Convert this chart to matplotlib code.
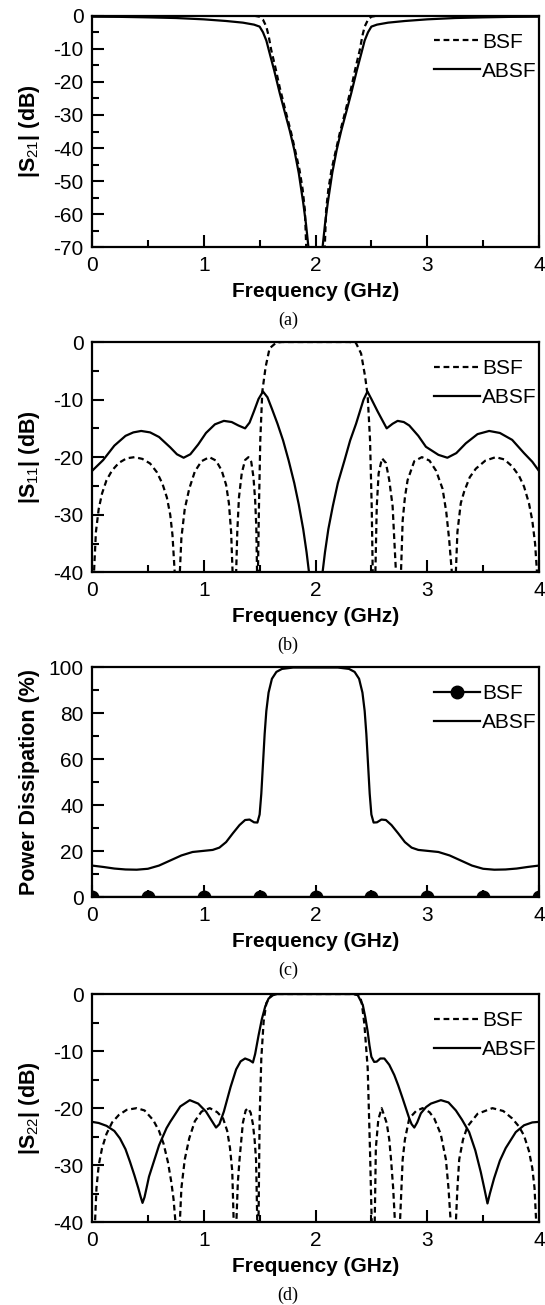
import matplotlib
matplotlib.use("Agg")
import matplotlib.pyplot as plt

plt.rcParams['font.family'] = ['Liberation Sans', 'DejaVu Sans']
plt.rcParams['mathtext.fontset'] = 'custom'
plt.rcParams['mathtext.rm'] = 'Liberation Sans'
plt.rcParams['mathtext.bf'] = 'Liberation Sans:bold'
plt.rcParams['axes.unicode_minus'] = False

# ---- (a) |S21| ----
fa_bsf = [0, 0.5, 1.0, 1.45, 1.5, 1.53, 1.56, 1.58, 1.604, 1.64, 1.68, 1.73, 1.783, 1.82, 1.857,
          1.885, 1.905, 1.917, 1.95, 2.05, 2.083, 2.095, 2.115, 2.143, 2.18, 2.217, 2.27, 2.32,
          2.36, 2.396, 2.42, 2.44, 2.47, 2.5, 2.55, 3.0, 3.5, 4.0]
sa_bsf = [0, 0, 0, 0, -0.3, -1.2, -3.3, -6.0, -10.4, -15.5, -21.7, -28.5, -35.5, -41.0, -46.6,
          -52.5, -58.7, -70, -90, -90, -70, -58.7, -52.5, -46.6, -41.0, -35.5, -28.5, -21.7,
          -15.5, -10.4, -6.0, -3.3, -1.2, -0.3, 0, 0, 0, 0]
fa_absf = [0, 0.25, 0.5, 0.75, 1.0, 1.2, 1.35, 1.45, 1.5, 1.53, 1.56, 1.59, 1.63, 1.68, 1.72,
           1.77, 1.81, 1.85, 1.89, 1.915, 1.94, 2.0, 2.06, 2.085, 2.11, 2.15, 2.19, 2.23, 2.28,
           2.32, 2.37, 2.41, 2.44, 2.47, 2.5, 2.55, 2.65, 2.8, 3.0, 3.25, 3.5, 3.75, 4.0]
sa_absf = [-0.3, -0.35, -0.5, -0.7, -1.1, -1.6, -2.1, -2.7, -3.3, -5.0, -7.5, -11.4, -16.5,
           -23.4, -28.5, -34.8, -40.5, -47.5, -56.5, -63, -71, -90, -71, -63, -56.5, -47.5,
           -40.5, -34.8, -28.5, -23.4, -16.5, -11.4, -7.5, -5.0, -3.3, -2.7, -2.1, -1.6, -1.1,
           -0.7, -0.5, -0.35, -0.3]

# ---- (b) |S11| ----
fb_bsf = [0.0, 0.018, 0.035, 0.06, 0.09, 0.13, 0.18, 0.24, 0.31, 0.38, 0.45, 0.52, 0.58, 0.63,
          0.67, 0.7, 0.72, 0.74, 0.765, 0.786, 0.8, 0.83, 0.87, 0.92, 0.98, 1.05, 1.11, 1.16,
          1.2, 1.225, 1.245, 1.258, 1.275, 1.29, 1.3, 1.315, 1.34, 1.37, 1.4, 1.425, 1.445,
          1.46, 1.47, 1.477, 1.481, 1.485, 1.494, 1.506, 1.524, 1.554, 1.589, 1.649, 1.7,
          2.3, 2.36, 2.408, 2.444, 2.467, 2.488, 2.503, 2.512, 2.524, 2.536, 2.548, 2.565,
          2.595, 2.63, 2.66, 2.69, 2.705, 2.72, 2.74, 2.765, 2.78, 2.8, 2.824, 2.884, 2.952,
          3.02, 3.08, 3.137, 3.17, 3.196, 3.22, 3.24, 3.256, 3.27, 3.3, 3.33, 3.38, 3.435,
          3.52, 3.613, 3.69, 3.76, 3.82, 3.866, 3.91, 3.94, 3.965, 3.982, 4.0]
sb_bsf = [-48, -40, -33, -29, -26.3, -24.0, -22.3, -21.0, -20.2, -20.0, -20.3, -21.1, -22.6,
          -24.6, -27.0, -30.0, -33.5, -40, -48, -40, -34, -29, -25.5, -22.5, -20.7, -20.0,
          -20.6, -22.3, -24.8, -28, -33, -40, -48, -40, -33, -27, -22.8, -20.5, -20.0, -20.8,
          -23.5, -27.5, -32, -40, -48, -40, -28.6, -17, -8.6, -4.3, -1.1, -0.1, 0,
          0, -0.1, -2.0, -6.0, -9.4, -17, -28.6, -40, -48, -40, -28.6, -22.8,
          -20.2, -21.0, -24.0, -28.5, -34.3, -40, -48, -40, -31, -27, -24, -20.7, -20.0,
          -20.6, -22.4, -25.5, -29.5, -34.3, -40, -48, -40, -33, -28, -26.0, -23.5, -22.0,
          -20.6, -20.0, -20.4, -21.6, -23.2, -25.1, -28.0, -31, -35, -40, -48]
fb_absf = [0, 0.1, 0.2, 0.3, 0.37, 0.44, 0.52, 0.6, 0.7, 0.76, 0.82, 0.88, 0.95, 1.02, 1.1,
           1.18, 1.25, 1.31, 1.37, 1.41, 1.45, 1.49, 1.53, 1.57, 1.61, 1.66, 1.71, 1.76, 1.81,
           1.85, 1.89, 1.92, 1.945, 2.0, 2.06, 2.085, 2.115, 2.155, 2.2, 2.259, 2.31, 2.363,
           2.43, 2.465, 2.5, 2.557, 2.637, 2.69, 2.735, 2.79, 2.839, 2.92, 2.988, 3.1, 3.18,
           3.26, 3.345, 3.45, 3.554, 3.65, 3.76, 3.866, 3.94, 4.0]
sb_absf = [-22.4, -20.5, -18.0, -16.3, -15.7, -15.45, -15.7, -16.5, -18.3, -19.5, -20.1, -19.5,
           -17.8, -15.8, -14.3, -13.7, -13.9, -14.5, -15.0, -14.0, -12.0, -9.9, -8.6, -9.6,
           -11.6, -14.2, -17.1, -20.6, -24.5, -28.2, -32.5, -36.5, -40.5, -55, -40.5, -36.5,
           -32.5, -28.5, -24.5, -20.6, -17.1, -14.2, -10.0, -8.6, -9.9, -12.1, -15.0, -14.2,
           -13.7, -13.9, -14.5, -16.3, -18.2, -19.6, -20.1, -19.3, -17.6, -16.0, -15.45,
           -15.8, -17.0, -19.3, -20.8, -22.4]

# ---- (c) power dissipation ----
fc_bsf = [0, 0.5, 1.0, 1.5, 2.0, 2.5, 3.0, 3.5, 4.0]
pc_bsf = [0, 0, 0, 0, 0, 0, 0, 0, 0]
fc_absf = [0, 0.1, 0.2, 0.3, 0.4, 0.5, 0.6, 0.7, 0.8, 0.9, 1.0, 1.08, 1.14, 1.2, 1.26, 1.32,
           1.37, 1.41, 1.45, 1.48, 1.5, 1.515, 1.53, 1.545, 1.56, 1.58, 1.61, 1.65, 1.7, 1.8,
           2.2, 2.3, 2.35, 2.39, 2.42, 2.44, 2.455, 2.47, 2.485, 2.5, 2.52, 2.55, 2.59, 2.63,
           2.68, 2.74, 2.8, 2.86, 2.92, 3.0, 3.1, 3.2, 3.3, 3.4, 3.5, 3.6, 3.7, 3.8, 3.9, 4.0]
pc_absf = [13.8, 13.2, 12.5, 12.1, 12.0, 12.4, 13.8, 16.0, 18.2, 19.7, 20.2, 20.6, 21.6, 24.0,
           27.8, 31.4, 33.6, 33.8, 32.6, 32.5, 36, 45, 58, 71, 81, 89, 95, 98, 99.3, 99.9,
           99.9, 99.3, 98, 95, 89, 81, 71, 58, 45, 36, 32.5, 32.6, 33.8, 33.6, 31.4, 27.8, 24.0,
           21.6, 20.6, 20.2, 19.7, 18.2, 16.0, 13.8, 12.4, 12.0, 12.1, 12.5, 13.2, 13.8]

# ---- (d) |S22| ----
fd_bsf = [0.0, 0.027, 0.04, 0.06, 0.09, 0.13, 0.18, 0.24, 0.31, 0.4, 0.47, 0.548, 0.6, 0.64,
          0.68, 0.71, 0.73, 0.747, 0.767, 0.786, 0.8, 0.83, 0.87, 0.92, 0.98, 1.054, 1.12,
          1.173, 1.21, 1.235, 1.255, 1.268, 1.28, 1.292, 1.305, 1.321, 1.35, 1.375, 1.396,
          1.42, 1.44, 1.455, 1.468, 1.479, 1.485, 1.49, 1.5, 1.515, 1.536, 1.56, 1.604, 1.66,
          2.34, 2.396, 2.414, 2.4375, 2.467, 2.488, 2.503, 2.516, 2.53, 2.54, 2.562, 2.592,
          2.637, 2.66, 2.676, 2.695, 2.711, 2.733, 2.756, 2.78, 2.8, 2.839, 2.9, 2.958, 3.02,
          3.0625, 3.12, 3.167, 3.19, 3.21, 3.233, 3.256, 3.27, 3.286, 3.32, 3.36, 3.45, 3.583,
          3.68, 3.76, 3.82, 3.866, 3.91, 3.94, 3.96, 3.975, 4.0]
sd_bsf = [-48, -40, -34, -30, -27, -24.5, -22.5, -21.2, -20.3, -20.0, -20.4, -22.1, -24.0,
          -26.2, -29.5, -33, -36, -40, -48, -40, -34, -29, -25.3, -22.3, -20.6, -20.0, -20.7,
          -21.8, -24.0, -27, -31, -40, -48, -40, -33, -28.8, -22.6, -20.4, -20.0, -20.8,
          -22.8, -25.5, -29, -40, -48, -40, -21.8, -11.3, -4.8, -1.6, -0.2, 0,
          0, -0.2, -1.6, -5.3, -13, -27.6, -40, -48, -40, -27, -22, -20,
          -22.6, -25.5, -29, -34, -40, -48, -40, -29, -25.5, -21.8, -20.5, -20, -20.7,
          -21.8, -24.5, -29, -34, -40, -48, -40, -34, -29, -25.5, -23.2, -21.0, -20,
          -20.5, -21.8, -23.2, -24.8, -27.5, -30.5, -34, -40, -48]
fd_absf = [0, 0.06, 0.13, 0.2, 0.25, 0.3, 0.34, 0.38, 0.414, 0.435, 0.452, 0.47, 0.488, 0.51,
           0.5625, 0.6, 0.667, 0.7, 0.79, 0.875, 0.95, 1.02, 1.068, 1.11, 1.14, 1.18, 1.24,
           1.29, 1.33, 1.37, 1.41, 1.44, 1.46, 1.49, 1.52, 1.55, 1.58, 1.62, 1.66,
           2.34, 2.378, 2.423, 2.445, 2.467, 2.483, 2.5, 2.525, 2.548, 2.58, 2.616, 2.66,
           2.705, 2.74, 2.78, 2.839, 2.86, 2.884, 2.91, 2.943, 2.99, 3.033, 3.122, 3.19,
           3.256, 3.31, 3.375, 3.43, 3.479, 3.51, 3.539, 3.56, 3.598, 3.65, 3.702, 3.792,
           3.866, 3.94, 4.0]
sd_absf = [-22.4, -22.6, -23.1, -24.0, -25.3, -27.2, -29.4, -31.8, -34.0, -35.5, -36.6, -35.6,
           -34.0, -32.0, -28.8, -26.5, -23.5, -22.4, -19.7, -18.6, -19.2, -20.6, -22.1, -23.4,
           -22.8, -20.6, -16.3, -13.2, -11.8, -11.3, -11.6, -12.0, -10.5, -7.3, -4.4, -2.2,
           -0.8, -0.2, 0,
           0, -0.2, -1.9, -4.0, -6.6, -9.0, -11.0, -11.9, -11.85, -11.3, -11.3, -12.4,
           -14.2, -16.0, -18.3, -21.8, -22.8, -23.4, -22.5, -20.9, -19.8, -19.2, -18.6, -19.0,
           -20.4, -22.0, -24.2, -27.4, -31.2, -34.0, -36.7, -35.0, -32.3, -29.2, -27.0, -24.2,
           -23.0, -22.5, -22.4]

W, H = 545, 1305
fig = plt.figure(figsize=(W / 100, H / 100), dpi=100)

L, R = 92, 539
# (top, bottom) in pixels for each panel
panels = [(15.7, 247.3), (342, 572.3), (667.3, 897.3), (994, 1222.3)]
axes = []
for top, bot in panels:
    ax = fig.add_axes([L / W, 1 - bot / H, (R - L) / W, (bot - top) / H])
    axes.append(ax)

dash = (0, (2.6, 1.7))
lw = 1.6
tick_fs = 15
leg_fs = 15


def style(ax, top, bot, ylim, ymaj, ymin, ylabel, cap):
    ax.set_xlim(0, 4)
    ax.set_ylim(*ylim)
    ax.set_xticks([0, 1, 2, 3, 4])
    ax.set_xticks([0.5, 1.5, 2.5, 3.5], minor=True)
    ax.set_yticks(ymaj)
    ax.set_yticks(ymin, minor=True)
    ax.tick_params(which='both', direction='in', width=1.5, labelsize=tick_fs, pad=6,
                   top=False, right=False)
    ax.tick_params(which='major', length=8.5)
    ax.tick_params(which='minor', length=5)
    for s in ax.spines.values():
        s.set_linewidth(1.6)
    h = bot - top
    ax.set_xlabel('Frequency (GHz)', fontsize=15, fontweight='bold')
    ax.xaxis.set_label_coords(0.5, -44 / h)
    ax.xaxis.label.set_va('center')
    ax.set_ylabel(ylabel, fontsize=15.5, fontweight='bold')
    ax.yaxis.set_label_coords((30 - L) / (R - L), 0.5)
    ax.yaxis.label.set_va('center')
    fig.text(288 / W, 1 - (bot + 73.4) / H, cap, family='Liberation Serif', fontsize=13,
             ha='center', va='center')
    ax.legend(loc='upper right', bbox_to_anchor=((537 - L) / (R - L), 1 - 17 / h),
              frameon=False, fontsize=leg_fs, handlelength=2.2, handletextpad=0.1,
              borderpad=0, borderaxespad=0, labelspacing=0.48)


ax = axes[0]
ax.plot(fa_bsf, sa_bsf, color='black', lw=lw, ls=dash, label='BSF')
ax.plot(fa_absf, sa_absf, color='black', lw=lw, label='ABSF')
style(ax, *panels[0], (-70, 0), range(-70, 1, 10), range(-65, 0, 10),
      r'|S$_{\mathrm{21}}$| (dB)', '(a)')

ax = axes[1]
ax.plot(fb_bsf, sb_bsf, color='black', lw=lw, ls=dash, label='BSF')
ax.plot(fb_absf, sb_absf, color='black', lw=lw, label='ABSF')
style(ax, *panels[1], (-40, 0), range(-40, 1, 10), range(-35, 0, 10),
      r'|S$_{\mathrm{11}}$| (dB)', '(b)')

ax = axes[2]
ax.plot(fc_bsf, pc_bsf, color='black', lw=lw, marker='o', ms=9, label='BSF')
ax.plot(fc_absf, pc_absf, color='black', lw=lw, label='ABSF')
style(ax, *panels[2], (0, 100), range(0, 101, 20), range(10, 100, 20),
      'Power Dissipation (%)', '(c)')

ax = axes[3]
ax.plot(fd_bsf, sd_bsf, color='black', lw=lw, ls=dash, label='BSF')
ax.plot(fd_absf, sd_absf, color='black', lw=lw, label='ABSF')
style(ax, *panels[3], (-40, 0), range(-40, 1, 10), range(-35, 0, 10),
      r'|S$_{\mathrm{22}}$| (dB)', '(d)')

fig.savefig('out.png', dpi=100)
